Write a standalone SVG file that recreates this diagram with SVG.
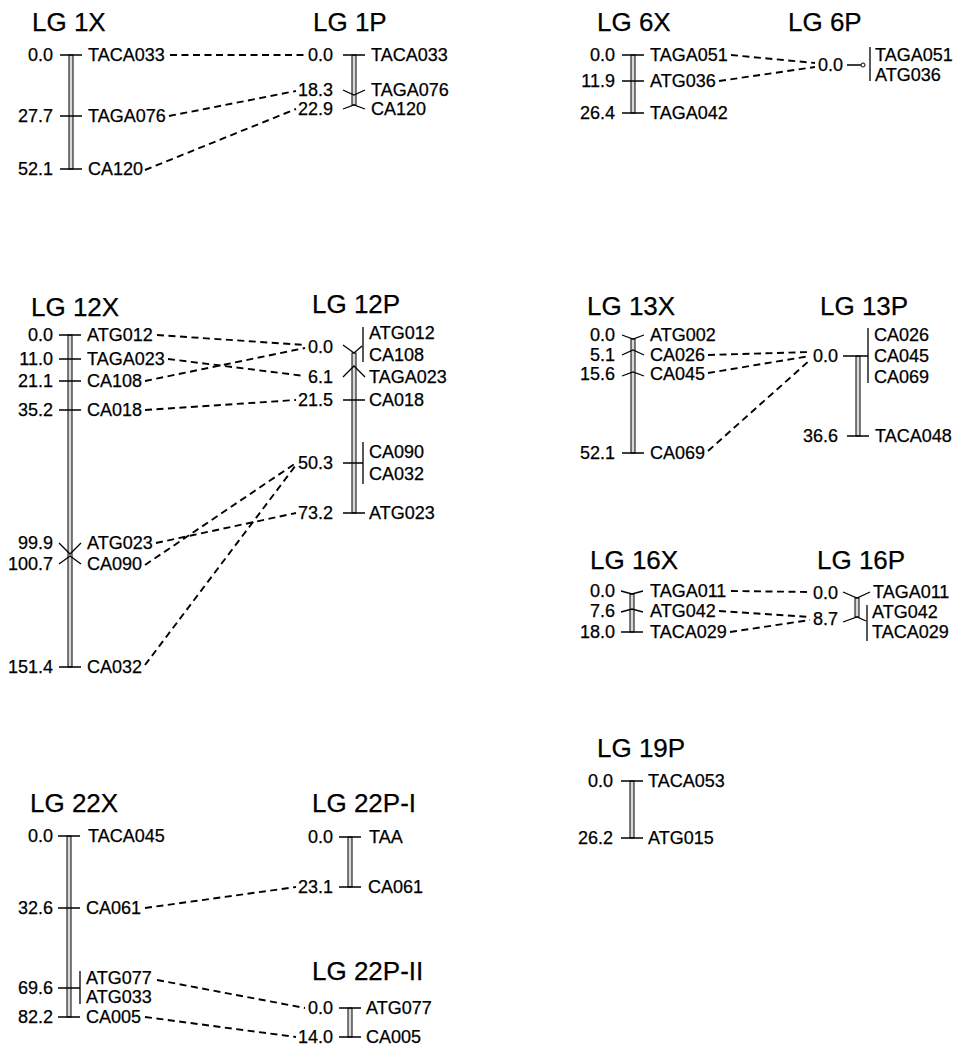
<svg xmlns="http://www.w3.org/2000/svg" width="956" height="1047" viewBox="0 0 956 1047">
  <style>
    text { font-family: "Liberation Sans", Arial, sans-serif; fill: #000; stroke: #000; stroke-width: 0.25; }
    .t { font-size: 26px; }
    .p { font-size: 18px; text-anchor: end; }
    .m { font-size: 18px; }
    .bar { fill: #d9d9d9; stroke: #000; stroke-width: 1; }
    .tk { fill: none; stroke: #000; stroke-width: 1.3; }
    .cn { fill: none; stroke: #000; stroke-width: 1.9; stroke-dasharray: 7 4.5; }
  </style>
  <rect width="956" height="1047" fill="#fff"/>

  <!-- LG 1X -->
  <g id="lg1x">
    <text class="t" x="32" y="31">LG 1X</text>
    <rect class="bar" x="69" y="55" width="4" height="114"/>
    <path class="tk" d="M60 55H82M60 116H82M60 169H82"/>
    <text class="p" x="53" y="61">0.0</text>
    <text class="p" x="53" y="122">27.7</text>
    <text class="p" x="53" y="175">52.1</text>
    <text class="m" x="88" y="61">TACA033</text>
    <text class="m" x="88" y="122">TAGA076</text>
    <text class="m" x="88" y="175">CA120</text>
  </g>

  <!-- LG 1P -->
  <g id="lg1p">
    <text class="t" x="313" y="31">LG 1P</text>
    <rect class="bar" x="352" y="55" width="4" height="50"/>
    <path class="tk" d="M343 55H365M343 90L354 95L365 90M343 109L354 105L365 109"/>
    <text class="p" x="333" y="61">0.0</text>
    <text class="p" x="333" y="96">18.3</text>
    <text class="p" x="333" y="115">22.9</text>
    <text class="m" x="371" y="61">TACA033</text>
    <text class="m" x="371" y="96">TAGA076</text>
    <text class="m" x="371" y="115">CA120</text>
  </g>

  <!-- LG 6X -->
  <g id="lg6x">
    <text class="t" x="597" y="31">LG 6X</text>
    <rect class="bar" x="631" y="55" width="4" height="58"/>
    <path class="tk" d="M622 55H644M622 81H644M622 113H644"/>
    <text class="p" x="615" y="61">0.0</text>
    <text class="p" x="615" y="87">11.9</text>
    <text class="p" x="615" y="119">26.4</text>
    <text class="m" x="650" y="61">TAGA051</text>
    <text class="m" x="650" y="87">ATG036</text>
    <text class="m" x="650" y="119">TAGA042</text>
  </g>

  <!-- LG 6P -->
  <g id="lg6p">
    <text class="t" x="788" y="31">LG 6P</text>
    <path class="tk" d="M847 65H861M870 47V81"/>
    <circle cx="863" cy="65" r="2" fill="#fff" stroke="#000" stroke-width="1"/>
    <text class="p" x="843" y="71">0.0</text>
    <text class="m" x="875" y="61">TAGA051</text>
    <text class="m" x="875" y="81">ATG036</text>
  </g>

  <!-- LG 12X -->
  <g id="lg12x">
    <text class="t" x="31" y="316">LG 12X</text>
    <rect class="bar" x="68" y="335" width="4" height="332"/>
    <path class="tk" d="M59 335H81M59 359H81M59 381H81M59 410H81M59 543L70 554L81 543M59 564L70 556L81 564M59 667H81"/>
    <text class="p" x="53" y="341">0.0</text>
    <text class="p" x="53" y="365">11.0</text>
    <text class="p" x="53" y="387">21.1</text>
    <text class="p" x="53" y="416">35.2</text>
    <text class="p" x="53" y="549">99.9</text>
    <text class="p" x="53" y="570">100.7</text>
    <text class="p" x="53" y="673">151.4</text>
    <text class="m" x="87" y="341">ATG012</text>
    <text class="m" x="87" y="365">TAGA023</text>
    <text class="m" x="87" y="387">CA108</text>
    <text class="m" x="87" y="416">CA018</text>
    <text class="m" x="87" y="549">ATG023</text>
    <text class="m" x="87" y="570">CA090</text>
    <text class="m" x="87" y="673">CA032</text>
  </g>

  <!-- LG 12P -->
  <g id="lg12p">
    <text class="t" x="312" y="313">LG 12P</text>
    <rect class="bar" x="352" y="353" width="4" height="160"/>
    <path class="tk" d="M343 345L354 353L362 346M363 327V362M343 377L354 366L365 377M343 400H365M343 463H363M363 442V484M343 513H365"/>
    <text class="p" x="333" y="353">0.0</text>
    <text class="p" x="333" y="383">6.1</text>
    <text class="p" x="333" y="406">21.5</text>
    <text class="p" x="333" y="469">50.3</text>
    <text class="p" x="333" y="519">73.2</text>
    <text class="m" x="369" y="339">ATG012</text>
    <text class="m" x="369" y="361">CA108</text>
    <text class="m" x="369" y="383">TAGA023</text>
    <text class="m" x="369" y="406">CA018</text>
    <text class="m" x="369" y="458">CA090</text>
    <text class="m" x="369" y="480">CA032</text>
    <text class="m" x="369" y="519">ATG023</text>
  </g>

  <!-- LG 13X -->
  <g id="lg13x">
    <text class="t" x="587" y="315">LG 13X</text>
    <rect class="bar" x="631" y="339" width="4" height="114"/>
    <path class="tk" d="M622 335L633 339L644 335M622 355L633 350L644 355M622 376L633 372L644 376M622 453H644"/>
    <text class="p" x="615" y="341">0.0</text>
    <text class="p" x="615" y="361">5.1</text>
    <text class="p" x="615" y="380">15.6</text>
    <text class="p" x="615" y="459">52.1</text>
    <text class="m" x="650" y="341">ATG002</text>
    <text class="m" x="650" y="361">CA026</text>
    <text class="m" x="650" y="380">CA045</text>
    <text class="m" x="650" y="459">CA069</text>
  </g>

  <!-- LG 13P -->
  <g id="lg13p">
    <text class="t" x="820" y="315">LG 13P</text>
    <rect class="bar" x="856" y="356" width="4" height="80"/>
    <path class="tk" d="M843 356H868M868 328V383M847 436H869"/>
    <text class="p" x="838" y="362">0.0</text>
    <text class="p" x="838" y="442">36.6</text>
    <text class="m" x="874" y="341">CA026</text>
    <text class="m" x="874" y="362">CA045</text>
    <text class="m" x="874" y="383">CA069</text>
    <text class="m" x="875" y="442">TACA048</text>
  </g>

  <!-- LG 16X -->
  <g id="lg16x">
    <text class="t" x="590" y="569">LG 16X</text>
    <rect class="bar" x="630" y="594" width="4" height="38"/>
    <path class="tk" d="M621 591L632 594L643 591M621 612L632 609L643 612M621 632H643"/>
    <text class="p" x="615" y="597">0.0</text>
    <text class="p" x="615" y="617">7.6</text>
    <text class="p" x="615" y="638">18.0</text>
    <text class="m" x="650" y="597">TAGA011</text>
    <text class="m" x="650" y="617">ATG042</text>
    <text class="m" x="650" y="638">TACA029</text>
  </g>

  <!-- LG 16P -->
  <g id="lg16p">
    <text class="t" x="817" y="569">LG 16P</text>
    <rect class="bar" x="855" y="598" width="4" height="19"/>
    <path class="tk" d="M843 592L857 598L870 592M843 622L857 617L866 621M867 605V641"/>
    <text class="p" x="838" y="599">0.0</text>
    <text class="p" x="838" y="625">8.7</text>
    <text class="m" x="873" y="598">TAGA011</text>
    <text class="m" x="872" y="618">ATG042</text>
    <text class="m" x="872" y="638">TACA029</text>
  </g>

  <!-- LG 19P -->
  <g id="lg19p">
    <text class="t" x="597" y="757">LG 19P</text>
    <rect class="bar" x="630" y="781" width="4" height="57"/>
    <path class="tk" d="M621 781H643M621 838H643"/>
    <text class="p" x="613" y="787">0.0</text>
    <text class="p" x="613" y="844">26.2</text>
    <text class="m" x="648" y="787">TACA053</text>
    <text class="m" x="648" y="844">ATG015</text>
  </g>

  <!-- LG 22X -->
  <g id="lg22x">
    <text class="t" x="30" y="812">LG 22X</text>
    <rect class="bar" x="67" y="836" width="4" height="181"/>
    <path class="tk" d="M58 836H80M58 908H80M58 988H80M80 971V1004M58 1017H80"/>
    <text class="p" x="53" y="842">0.0</text>
    <text class="p" x="53" y="914">32.6</text>
    <text class="p" x="53" y="994">69.6</text>
    <text class="p" x="53" y="1023">82.2</text>
    <text class="m" x="88" y="842">TACA045</text>
    <text class="m" x="86" y="914">CA061</text>
    <text class="m" x="86" y="984">ATG077</text>
    <text class="m" x="86" y="1003">ATG033</text>
    <text class="m" x="86" y="1023">CA005</text>
  </g>

  <!-- LG 22P-I -->
  <g id="lg22p1">
    <text class="t" x="312" y="812">LG 22P-I</text>
    <rect class="bar" x="348" y="837" width="4" height="50"/>
    <path class="tk" d="M339 837H361M339 887H361"/>
    <text class="p" x="333" y="843">0.0</text>
    <text class="p" x="333" y="893">23.1</text>
    <text class="m" x="369" y="843">TAA</text>
    <text class="m" x="368" y="893">CA061</text>
  </g>

  <!-- LG 22P-II -->
  <g id="lg22p2">
    <text class="t" x="312" y="980">LG 22P-II</text>
    <rect class="bar" x="348" y="1008" width="4" height="29"/>
    <path class="tk" d="M339 1008H361M339 1037H361"/>
    <text class="p" x="333" y="1014">0.0</text>
    <text class="p" x="333" y="1043">14.0</text>
    <text class="m" x="366" y="1014">ATG077</text>
    <text class="m" x="366" y="1043">CA005</text>
  </g>

  <!-- dashed links between shared markers -->
  <g id="connectors">
    <path class="cn" d="M170 55H307"/>
    <path class="cn" d="M169 116L296 91"/>
    <path class="cn" d="M145 170L296 109"/>

    <path class="cn" d="M731 55L815 63"/>
    <path class="cn" d="M719 81L815 67"/>

    <path class="cn" d="M157 335L305 345"/>
    <path class="cn" d="M168 359L305 376"/>
    <path class="cn" d="M145 381L305 348"/>
    <path class="cn" d="M145 410L296 400"/>
    <path class="cn" d="M156 543L296 513"/>
    <path class="cn" d="M145 565L296 463"/>
    <path class="cn" d="M145 665L296 465"/>

    <path class="cn" d="M708 355L810 352"/>
    <path class="cn" d="M708 373L810 356"/>
    <path class="cn" d="M708 451L810 360"/>

    <path class="cn" d="M731 591L810 592"/>
    <path class="cn" d="M719 611L810 617"/>
    <path class="cn" d="M730 632L810 620"/>

    <path class="cn" d="M145 908L296 887"/>
    <path class="cn" d="M157 980L305 1008"/>
    <path class="cn" d="M145 1017L296 1037"/>
  </g>
</svg>
